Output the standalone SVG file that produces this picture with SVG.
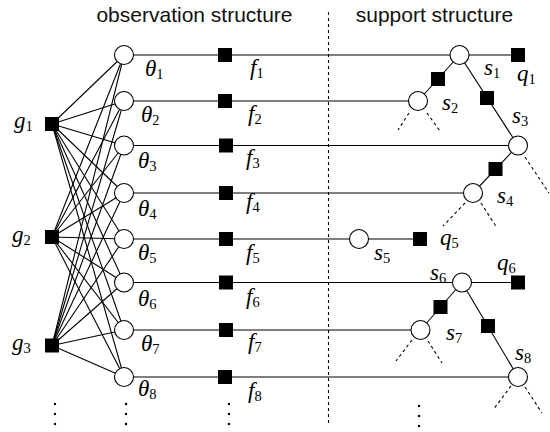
<svg xmlns="http://www.w3.org/2000/svg" width="550" height="432" viewBox="0 0 550 432">
<defs>
<style>
.ln{stroke:#000;stroke-width:1.1;fill:none}
.dash{stroke:#000;stroke-width:1.1;fill:none;stroke-dasharray:3 3}
.c{fill:#fff;stroke:#000;stroke-width:1.1}
.sq{fill:#000}
.dot{fill:#000}
.sub{font-size:14.5px;font-style:normal}
</style>
</defs>
<rect width="550" height="432" fill="#fff"/>
<g font-family="Liberation Sans, Arial, sans-serif" font-size="21" fill="#111" text-anchor="middle">
<text x="194.5" y="22">observation structure</text>
<text x="434.5" y="22">support structure</text>
</g>
<g id="connectors">
<line class="dash" x1="328.5" y1="12" x2="328.5" y2="426"/>
<g id="g-theta">
<line class="ln" x1="52" y1="124" x2="124" y2="55"/>
<line class="ln" x1="52" y1="124" x2="124" y2="101"/>
<line class="ln" x1="52" y1="124" x2="124" y2="145.5"/>
<line class="ln" x1="52" y1="124" x2="124" y2="193"/>
<line class="ln" x1="52" y1="124" x2="124" y2="239"/>
<line class="ln" x1="52" y1="124" x2="124" y2="282.5"/>
<line class="ln" x1="52" y1="124" x2="124" y2="330"/>
<line class="ln" x1="52" y1="124" x2="124" y2="377"/>
<line class="ln" x1="52" y1="237" x2="124" y2="55"/>
<line class="ln" x1="52" y1="237" x2="124" y2="101"/>
<line class="ln" x1="52" y1="237" x2="124" y2="145.5"/>
<line class="ln" x1="52" y1="237" x2="124" y2="193"/>
<line class="ln" x1="52" y1="237" x2="124" y2="239"/>
<line class="ln" x1="52" y1="237" x2="124" y2="282.5"/>
<line class="ln" x1="52" y1="237" x2="124" y2="330"/>
<line class="ln" x1="52" y1="237" x2="124" y2="377"/>
<line class="ln" x1="52" y1="345.5" x2="124" y2="55"/>
<line class="ln" x1="52" y1="345.5" x2="124" y2="101"/>
<line class="ln" x1="52" y1="345.5" x2="124" y2="145.5"/>
<line class="ln" x1="52" y1="345.5" x2="124" y2="193"/>
<line class="ln" x1="52" y1="345.5" x2="124" y2="239"/>
<line class="ln" x1="52" y1="345.5" x2="124" y2="282.5"/>
<line class="ln" x1="52" y1="345.5" x2="124" y2="330"/>
<line class="ln" x1="52" y1="345.5" x2="124" y2="377"/>
</g>
<g id="rows">
<line class="ln" x1="124" y1="55" x2="518" y2="55"/>
<line class="ln" x1="124" y1="101" x2="418" y2="101"/>
<line class="ln" x1="124" y1="145.5" x2="518" y2="145.5"/>
<line class="ln" x1="124" y1="193" x2="473" y2="193"/>
<line class="ln" x1="124" y1="239" x2="420" y2="239"/>
<line class="ln" x1="124" y1="282.5" x2="518" y2="282.5"/>
<line class="ln" x1="124" y1="330" x2="420.5" y2="330"/>
<line class="ln" x1="124" y1="377" x2="518" y2="377"/>
</g>
<g id="tree">
<line class="ln" x1="459.5" y1="55" x2="418" y2="101"/>
<line class="ln" x1="459.5" y1="55" x2="518" y2="145.5"/>
<line class="ln" x1="518" y1="145.5" x2="473" y2="193"/>
<line class="ln" x1="462" y1="282.5" x2="420.5" y2="330"/>
<line class="ln" x1="462" y1="282.5" x2="518" y2="377"/>
<line class="dash" x1="409" y1="113" x2="398" y2="130"/>
<line class="dash" x1="427" y1="113" x2="440" y2="131"/>
<line class="dash" x1="525" y1="157" x2="549" y2="193"/>
<line class="dash" x1="465" y1="203" x2="443" y2="226"/>
<line class="dash" x1="481" y1="203" x2="497" y2="228"/>
<line class="dash" x1="412" y1="340" x2="396" y2="361"/>
<line class="dash" x1="428" y1="341" x2="442" y2="363"/>
<line class="dash" x1="511" y1="386" x2="493" y2="410"/>
<line class="dash" x1="525" y1="387" x2="542" y2="413"/>
</g>
</g>
<g id="nodes" font-family="Liberation Serif, Times New Roman, serif" font-style="italic" font-size="23" fill="#000">
<g id="g1"><rect class="sq" x="45" y="117" width="14" height="14"/><text x="14" y="128">g<tspan class="sub" dy="3">1</tspan></text></g>
<g id="g2"><rect class="sq" x="45" y="230" width="14" height="14"/><text x="12" y="242">g<tspan class="sub" dy="3">2</tspan></text></g>
<g id="g3"><rect class="sq" x="45" y="338.5" width="14" height="14"/><text x="12" y="350">g<tspan class="sub" dy="3">3</tspan></text></g>
<g id="theta1"><circle class="c" cx="124" cy="55" r="9.5"/><text x="145" y="76">θ<tspan class="sub" dy="3">1</tspan></text></g>
<g id="theta2"><circle class="c" cx="124" cy="101" r="9.5"/><text x="141" y="122">θ<tspan class="sub" dy="3">2</tspan></text></g>
<g id="theta3"><circle class="c" cx="124" cy="145.5" r="9.5"/><text x="138" y="168">θ<tspan class="sub" dy="3">3</tspan></text></g>
<g id="theta4"><circle class="c" cx="124" cy="193" r="9.5"/><text x="138" y="216">θ<tspan class="sub" dy="3">4</tspan></text></g>
<g id="theta5"><circle class="c" cx="124" cy="239" r="9.5"/><text x="138" y="260">θ<tspan class="sub" dy="3">5</tspan></text></g>
<g id="theta6"><circle class="c" cx="124" cy="282.5" r="9.5"/><text x="138" y="306">θ<tspan class="sub" dy="3">6</tspan></text></g>
<g id="theta7"><circle class="c" cx="124" cy="330" r="9.5"/><text x="141" y="351">θ<tspan class="sub" dy="3">7</tspan></text></g>
<g id="theta8"><circle class="c" cx="124" cy="377" r="9.5"/><text x="138" y="396">θ<tspan class="sub" dy="3">8</tspan></text></g>
<g id="f1"><rect class="sq" x="218" y="48" width="14" height="14"/><text x="250" y="75">f<tspan class="sub" dy="3">1</tspan></text></g>
<g id="f2"><rect class="sq" x="218" y="94" width="14" height="14"/><text x="248" y="121">f<tspan class="sub" dy="3">2</tspan></text></g>
<g id="f3"><rect class="sq" x="219" y="138.5" width="14" height="14"/><text x="246" y="165">f<tspan class="sub" dy="3">3</tspan></text></g>
<g id="f4"><rect class="sq" x="219" y="186" width="14" height="14"/><text x="246" y="209">f<tspan class="sub" dy="3">4</tspan></text></g>
<g id="f5"><rect class="sq" x="219" y="232" width="14" height="14"/><text x="246" y="260">f<tspan class="sub" dy="3">5</tspan></text></g>
<g id="f6"><rect class="sq" x="219" y="275.5" width="14" height="14"/><text x="246" y="304">f<tspan class="sub" dy="3">6</tspan></text></g>
<g id="f7"><rect class="sq" x="219" y="323" width="14" height="14"/><text x="248" y="349">f<tspan class="sub" dy="3">7</tspan></text></g>
<g id="f8"><rect class="sq" x="218" y="370" width="14" height="14"/><text x="248" y="398">f<tspan class="sub" dy="3">8</tspan></text></g>
<g id="s1"><circle class="c" cx="459.5" cy="55" r="9.5"/><text x="484" y="75">s<tspan class="sub" dy="3">1</tspan></text></g>
<g id="q1"><rect class="sq" x="511" y="48" width="14" height="14"/><text x="517" y="81">q<tspan class="sub" dy="3">1</tspan></text></g>
<g id="s2"><circle class="c" cx="418" cy="101" r="9.5"/><text x="442" y="110">s<tspan class="sub" dy="3">2</tspan></text></g>
<g id="s3"><circle class="c" cx="518" cy="145.5" r="9.5"/><text x="512" y="123">s<tspan class="sub" dy="3">3</tspan></text></g>
<g id="s4"><circle class="c" cx="473" cy="193" r="9.5"/><text x="497" y="203">s<tspan class="sub" dy="3">4</tspan></text></g>
<g id="s5"><circle class="c" cx="359" cy="239" r="9.5"/><text x="374" y="260">s<tspan class="sub" dy="3">5</tspan></text></g>
<g id="q5"><rect class="sq" x="413" y="232" width="14" height="14"/><text x="440" y="245">q<tspan class="sub" dy="3">5</tspan></text></g>
<g id="s6"><circle class="c" cx="462" cy="282.5" r="9.5"/><text x="430" y="280">s<tspan class="sub" dy="3">6</tspan></text></g>
<g id="q6"><rect class="sq" x="511" y="275.5" width="14" height="14"/><text x="497" y="270">q<tspan class="sub" dy="3">6</tspan></text></g>
<g id="s7"><circle class="c" cx="420.5" cy="330" r="9.5"/><text x="446" y="340">s<tspan class="sub" dy="3">7</tspan></text></g>
<g id="s8"><circle class="c" cx="518" cy="377" r="9.5"/><text x="515" y="360">s<tspan class="sub" dy="3">8</tspan></text></g>
</g>
<g id="tree-factors">
<rect class="sq" x="431" y="72" width="14" height="14"/>
<rect class="sq" x="480" y="91" width="14" height="14"/>
<rect class="sq" x="488.5" y="162" width="14" height="14"/>
<rect class="sq" x="433.5" y="300" width="14" height="14"/>
<rect class="sq" x="481" y="319" width="14" height="14"/>
</g>
<g id="vdots">
<circle class="dot" cx="55" cy="404" r="1.2"/><circle class="dot" cx="55" cy="414" r="1.2"/><circle class="dot" cx="55" cy="424" r="1.2"/>
<circle class="dot" cx="126" cy="404" r="1.2"/><circle class="dot" cx="126" cy="414" r="1.2"/><circle class="dot" cx="126" cy="424" r="1.2"/>
<circle class="dot" cx="229" cy="404" r="1.2"/><circle class="dot" cx="229" cy="414" r="1.2"/><circle class="dot" cx="229" cy="424" r="1.2"/>
<circle class="dot" cx="419" cy="406" r="1.2"/><circle class="dot" cx="419" cy="416" r="1.2"/><circle class="dot" cx="419" cy="426" r="1.2"/>
</g>
</svg>
